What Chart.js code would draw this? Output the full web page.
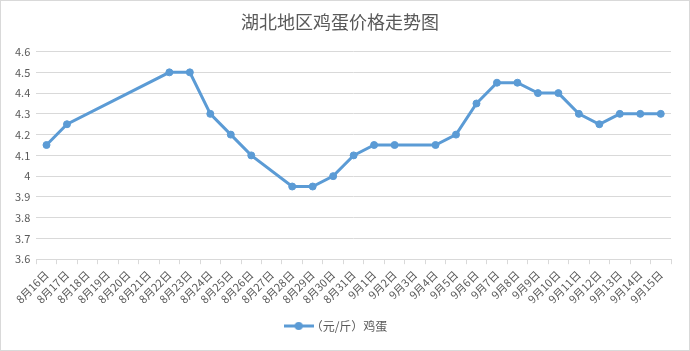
<!DOCTYPE html>
<html>
<head>
<meta charset="utf-8">
<script src="https://cdn.jsdelivr.net/npm/chart.js@4"></script>
<style>
  html, body { margin: 0; padding: 0; background: #fff; }
  #wrap { width: 688px; height: 349px; border: 1px solid #d9d9d9; }
</style>
</head>
<body>
<div id="wrap"><canvas id="myChart" width="688" height="349"></canvas></div>
<script>
// dates along the x axis
const dates = [
    "8月16日", "8月17日", "8月18日", "8月19日", "8月20日", "8月21日", "8月22日", "8月23日",
    "8月24日", "8月25日", "8月26日", "8月27日", "8月28日", "8月29日", "8月30日", "8月31日",
    "9月1日", "9月2日", "9月3日", "9月4日", "9月5日", "9月6日", "9月7日", "9月8日",
    "9月9日", "9月10日", "9月11日", "9月12日", "9月13日", "9月14日", "9月15日"
];
// egg price, yuan per jin (null = no quote that day)
const eggPrice = [
    4.15, 4.25, null, null, null, null, 4.5, 4.5,
    4.3, 4.2, 4.1, null, 3.95, 3.95, 4.0, 4.1,
    4.15, 4.15, null, 4.15, 4.2, 4.35, 4.45, 4.45,
    4.4, 4.4, 4.3, 4.25, 4.3, 4.3, 4.3
];
const seriesName = "（元/斤）鸡蛋";
const chartTitle = "湖北地区鸡蛋价格走势图";

const lineColor = "#5b9bd5";
const textColor = "#595959";
const fontFamily = "'Noto Sans CJK SC', 'Microsoft YaHei', sans-serif";

// little line+dot marker for the legend
let marker = document.createElement("canvas");
marker.width = 30;
marker.height = 10;
let mctx = marker.getContext("2d");
mctx.strokeStyle = lineColor;
mctx.lineWidth = 3;
mctx.beginPath();
mctx.moveTo(0, 5);
mctx.lineTo(30, 5);
mctx.stroke();
mctx.fillStyle = lineColor;
mctx.beginPath();
mctx.arc(15, 5, 4, 0, Math.PI * 2);
mctx.fill();

const myChart = new Chart(document.getElementById("myChart"), {
    type: "line",
    data: {
        labels: dates,
        datasets: [
            {
                label: seriesName,
                data: eggPrice,
                borderColor: lineColor,
                backgroundColor: lineColor,
                borderWidth: 3,
                pointRadius: 3.5,
                pointBorderWidth: 1,
                pointHoverRadius: 3.5,
                spanGaps: true,
                fill: false,
            },
        ],
    },
    options: {
        responsive: false,
        animation: false,
        layout: { padding: { left: 8, right: 18, top: 4, bottom: 8 } },
        plugins: {
            title: {
                display: true,
                text: chartTitle,
                color: textColor,
                font: { family: fontFamily, size: 18, weight: "normal" },
                padding: { top: 6, bottom: 19 },
            },
            legend: {
                position: "bottom",
                labels: {
                    color: textColor,
                    font: { family: fontFamily, size: 12 },
                    usePointStyle: true,
                    padding: 10,
                    generateLabels: (chart) => {
                        let items = Chart.defaults.plugins.legend.labels.generateLabels(chart);
                        items.forEach((it) => { it.pointStyle = marker; });
                        return items;
                    },
                },
            },
            tooltip: { enabled: false },
        },
        scales: {
            x: {
                offset: true,
                grid: {
                    offset: true,
                    drawOnChartArea: false,
                    drawTicks: true,
                    tickLength: 5,
                    color: "#d9d9d9",
                },
                border: { color: "#d9d9d9" },
                ticks: {
                    color: textColor,
                    font: { family: fontFamily, size: 11 },
                    autoSkip: false,
                    minRotation: 45,
                    maxRotation: 45,
                    padding: 4,
                },
            },
            y: {
                min: 3.6,
                max: 4.6,
                grid: { color: "#d9d9d9", drawTicks: false },
                border: { display: false },
                ticks: {
                    stepSize: 0.1,
                    color: textColor,
                    font: { family: fontFamily, size: 11 },
                    padding: 6,
                    callback: (v) => parseFloat(v.toFixed(1)).toString(),
                },
            },
        },
    },
});
</script>
</body>
</html>
